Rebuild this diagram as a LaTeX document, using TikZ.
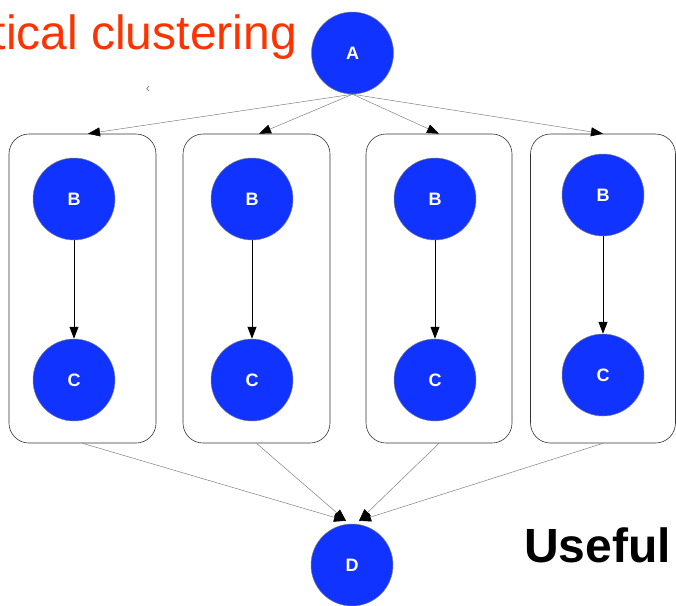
\documentclass[tikz,border=0pt]{standalone}
\usepackage{fontspec}
\setmainfont{Liberation Sans}
\usetikzlibrary{arrows.meta,calc}
\definecolor{nodeblue}{RGB}{17,51,255}
\definecolor{titlered}{RGB}{255,51,0}
\begin{document}
\begin{tikzpicture}[x=1pt,y=-1pt,
  vnode/.style={circle,fill=nodeblue,draw=gray,line width=0.5pt,minimum size=82pt,inner sep=0pt,text=white,font=\bfseries\fontsize{18}{18}\selectfont},
  cluster/.style={draw=black!80,line width=0.6pt,rounded corners=20pt,minimum height=309pt,inner sep=0pt},
  tipped/.style={-{Triangle[length=12pt,width=9pt,color=black]}},
  thinedge/.style={tipped,draw=gray,line width=0.5pt},
  inedge/.style={tipped,draw=black,line width=0.8pt}]
\useasboundingbox (0,0) rectangle (676,605);
% title texts
\node[anchor=base east,text=titlered,font=\fontsize{48}{48}\selectfont,inner sep=0pt] (title) at (297,49) {tical clustering};
\node[anchor=base west,font=\bfseries\fontsize{48}{48}\selectfont,inner sep=0pt] (useful) at (524,562) {Useful};
\node[text=gray,font=\fontsize{13}{13}\selectfont,inner sep=0pt] (mark) at (148,90) {‹};
% clusters
\node[cluster,minimum width=147pt] (k1) at (82.5,288.5) {};
\node[cluster,minimum width=147pt] (k2) at (256.5,288.5) {};
\node[cluster,minimum width=146pt] (k3) at (439,288.5) {};
\node[cluster,minimum width=145pt] (k4) at (603,288.5) {};
% nodes
\node[vnode] (A) at (352.5,53) {A};
\node[vnode] (b1) at (74,199) {B};
\node[vnode] (c1) at (74,380) {C};
\node[vnode] (b2) at (252,199) {B};
\node[vnode] (c2) at (252,380) {C};
\node[vnode] (b3) at (435,199) {B};
\node[vnode] (c3) at (435,380) {C};
\node[vnode] (b4) at (603,195) {B};
\node[vnode] (c4) at (603,375) {C};
\node[vnode] (D) at (352,565) {D};
% connector end points on cluster tops and at D
\coordinate (t1) at ($(k1.north)+(5.5,0)$);
\coordinate (t2) at ($(k2.north)+(2.5,0)$);
\coordinate (t3) at ($(k3.north)+(0,0)$);
\coordinate (t4) at ($(k4.north)+(0,0)$);
\coordinate (dl) at ($(D.north)+(-6,-3)$);
\coordinate (dr) at ($(D.north)+(7,-3)$);
% edges
\draw[thinedge] (A.south) -- (t1);
\draw[thinedge] (A.south) -- (t2);
\draw[thinedge] (A.south) -- (t3);
\draw[thinedge] (A.south) -- (t4);
\draw[inedge] (b1) -- (c1);
\draw[inedge] (b2) -- (c2);
\draw[inedge] (b3) -- (c3);
\draw[inedge] (b4) -- (c4);
\draw[thinedge] (k1.south) -- (dl);
\draw[thinedge] (k2.south) -- (dl);
\draw[thinedge] (k3.south) -- (dr);
\draw[thinedge] (k4.south) -- (dr);
\end{tikzpicture}
\end{document}
